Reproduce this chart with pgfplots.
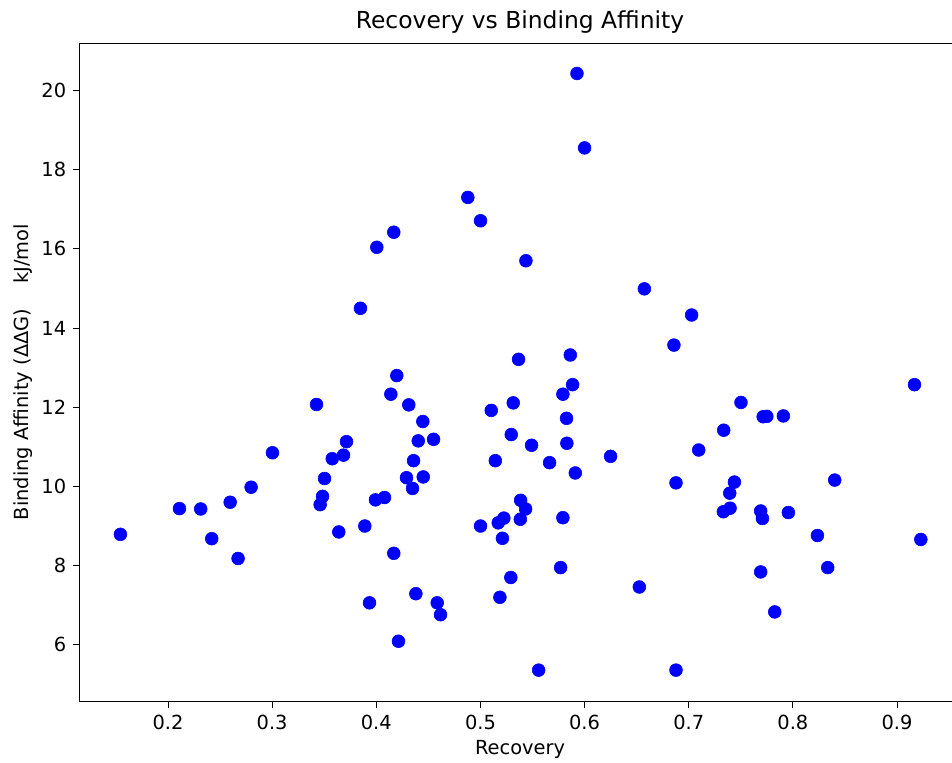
\documentclass[border=0pt]{standalone}
\usepackage{fontspec}
\setmainfont{DejaVu Sans}
\usepackage{pgfplots}
\pgfplotsset{compat=1.18}
\definecolor{mblue}{RGB}{0,0,255}
\begin{document}
\begin{tikzpicture}
\begin{axis}[
  scale only axis,
  width=440pt, height=329pt,
  xmin=0.1155, xmax=0.9605,
  ymin=4.58, ymax=21.20,
  xtick={0.2,0.3,0.4,0.5,0.6,0.7,0.8,0.9},
  xticklabels={0.2,0.3,0.4,0.5,0.6,0.7,0.8,0.9},
  ytick={6,8,10,12,14,16,18,20},
  yticklabels={6,8,10,12,14,16,18,20},
  tick align=outside,
  xtick pos=left, ytick pos=left,
  major tick length=3.4pt,
  tick style={black, line width=0.4pt},
  axis line style={black, line width=0.5pt},
  ticklabel style={font=\fontsize{9.7}{11}\selectfont},
  /pgf/number format/assume math mode=true,
  title={Recovery vs Binding Affinity},
  title style={font=\fontsize{11.7}{14}\selectfont, yshift=-4.5pt},
  xlabel={Recovery},
  ylabel={Binding Affinity (ΔΔG)\hspace{1.3em}kJ/mol},
  label style={font=\fontsize{9.7}{11}\selectfont},
  xlabel style={yshift=1.5pt},
  ylabel style={yshift=-2.5pt},
]
\addplot[only marks, mark=*, mark size=3.2pt, mark options={fill=mblue, draw=mblue, line width=0.3pt}] table {
x y
0.3426 12.07
0.3714 11.13
0.3003 10.85
0.3577 10.70
0.3685 10.79
0.3503 10.20
0.2798 9.98
0.3484 9.75
0.3461 9.54
0.2597 9.60
0.2110 9.44
0.2314 9.43
0.3992 9.66
0.1543 8.79
0.2420 8.68
0.3640 8.85
0.3890 9.00
0.2673 8.18
0.3935 7.06
0.4879 17.30
0.5001 16.71
0.4168 16.42
0.4005 16.04
0.5437 15.70
0.6574 14.99
0.3848 14.50
0.5863 13.32
0.5366 13.21
0.4197 12.80
0.5885 12.57
0.5792 12.33
0.4140 12.33
0.5315 12.11
0.5104 11.92
0.4312 12.06
0.5827 11.72
0.4447 11.64
0.5296 11.31
0.4403 11.15
0.4550 11.19
0.5491 11.04
0.5830 11.09
0.4358 10.65
0.5143 10.65
0.5664 10.60
0.6250 10.76
0.5911 10.34
0.4290 10.22
0.4451 10.24
0.4348 9.95
0.4079 9.72
0.5386 9.65
0.5434 9.43
0.5383 9.17
0.5225 9.20
0.5171 9.08
0.5001 9.00
0.5792 9.21
0.5211 8.69
0.4168 8.31
0.5770 7.95
0.5292 7.70
0.6526 7.46
0.5187 7.20
0.4380 7.29
0.4585 7.06
0.4617 6.76
0.4213 6.09
0.5559 5.36
0.7028 14.33
0.6858 13.57
0.9168 12.57
0.7502 12.12
0.7715 11.76
0.7750 11.77
0.7909 11.78
0.7336 11.42
0.7096 10.92
0.6878 10.09
0.7439 10.11
0.8402 10.16
0.7394 9.83
0.7397 9.45
0.7333 9.36
0.7691 9.38
0.7708 9.19
0.7957 9.34
0.8236 8.76
0.9229 8.66
0.8335 7.95
0.7691 7.84
0.7826 6.83
0.6878 5.36
0.5927 20.43
0.6000 18.55
};
\end{axis}
\pgfresetboundingbox
\path[use as bounding box] (-40pt,-30.5pt) rectangle (436pt,350.5pt);
\end{tikzpicture}
\end{document}
